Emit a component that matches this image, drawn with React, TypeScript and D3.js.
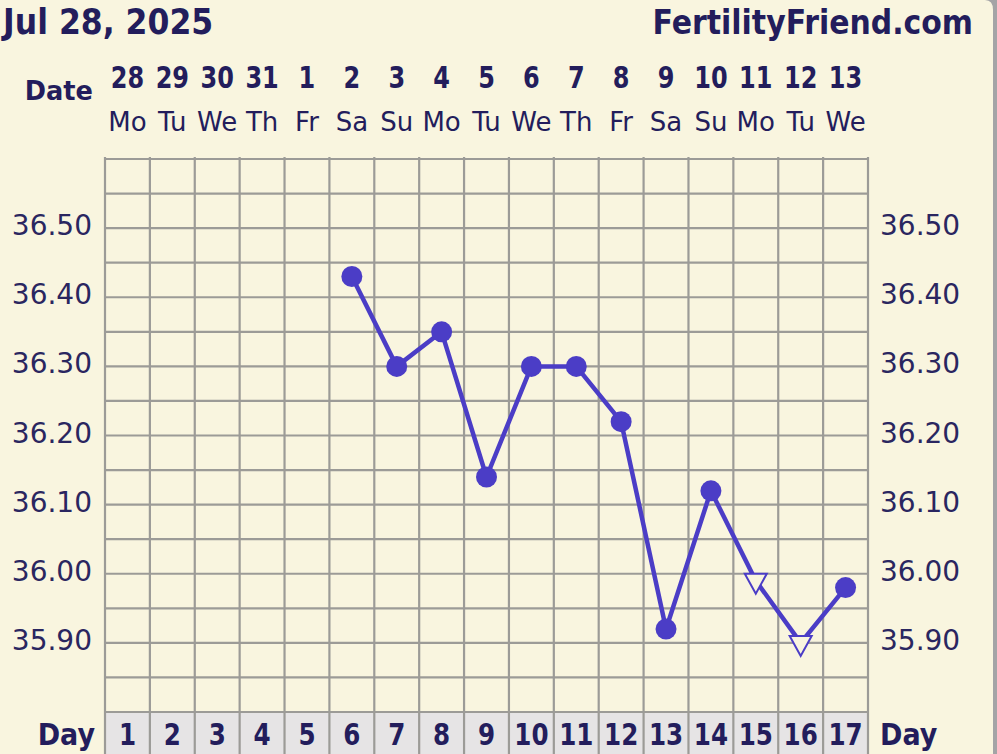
import React from "react";
import * as d3 from "d3";

const dates = ["28", "29", "30", "31", "1", "2", "3", "4", "5", "6", "7", "8", "9", "10", "11", "12", "13"];
const weekdays = ["Mo", "Tu", "We", "Th", "Fr", "Sa", "Su", "Mo", "Tu", "We", "Th", "Fr", "Sa", "Su", "Mo", "Tu", "We"];
const cycleDays = [1, 2, 3, 4, 5, 6, 7, 8, 9, 10, 11, 12, 13, 14, 15, 16, 17];
const tempDays = [6, 7, 8, 9, 10, 11, 12, 13, 14, 15, 16, 17];
const temps = [36.43, 36.3, 36.35, 36.14, 36.3, 36.3, 36.22, 35.92, 36.12, 35.99, 35.9, 35.98];
const openMarkers = [false, false, false, false, false, false, false, false, false, true, true, false];
const yTicks = [35.9, 36.0, 36.1, 36.2, 36.3, 36.4, 36.5];

const W = 997;
const H = 754;
const BG = "#f9f5df";
const INK = "#231d5c";
const LINE = "#4b3dc6";
const GRID = "#9c9b97";
const FONT = "'DejaVu Sans', Verdana, sans-serif";

export default function App() {
  const x = d3.scaleLinear().domain([0, 17]).range([105, 868]);
  const y = d3.scaleLinear().domain([35.8, 36.6]).range([712, 159]);
  const hLines = d3.range(0, 17).map((i) => 35.8 + i * 0.05);
  const vLines = d3.range(0, 18);
  const pts = tempDays.map((d, i) => ({ d, v: temps[i], open: openMarkers[i] }));
  const line = d3
    .line<{ d: number; v: number }>()
    .x((p) => x(p.d - 0.5))
    .y((p) => y(p.v));

  return (
    <svg
      width={W}
      height={H}
      style={{ position: "absolute", left: 0, top: 0 }}
      fontFamily={FONT}
    >
      <rect x={0} y={0} width={W} height={H} fill="#a4a4a6" />
      <path d={`M0,0 H985 Q993,0 993,10 V${H} H0 Z`} fill={BG} />

      {/* title */}
      <text transform="translate(3,34) scale(0.9,1)" fontSize={35} fontWeight="bold" fill={INK}>
        Jul 28, 2025
      </text>
      <text transform="translate(973,34) scale(0.88,1)" fontSize={34} fontWeight="bold" fill={INK} textAnchor="end">
        FertilityFriend.com
      </text>

      {/* date header */}
      <text transform="translate(93,100) scale(0.95,1)" fontSize={27} fontWeight="bold" fill={INK} textAnchor="end">
        Date
      </text>
      {dates.map((t, i) => (
        <text
          key={"d" + i}
          transform={`translate(${x(i + 0.5)},88) scale(0.8,1)`}
          fontSize={30}
          fontWeight="bold"
          fill={INK}
          textAnchor="middle"
        >
          {t}
        </text>
      ))}
      {weekdays.map((t, i) => (
        <text key={"w" + i} x={x(i + 0.5)} y={131} fontSize={26} fill={INK} textAnchor="middle">
          {t}
        </text>
      ))}

      {/* day row */}
      <rect x={x(0)} y={712} width={x(17) - x(0)} height={H - 712} fill="#e6e4e5" />

      {/* grid */}
      {hLines.map((v, i) => (
        <line key={"h" + i} x1={x(0)} x2={x(17)} y1={y(v)} y2={y(v)} stroke={GRID} strokeWidth={2.2} />
      ))}
      <line x1={x(0)} x2={x(17)} y1={y(36.6)} y2={y(36.6)} stroke={GRID} strokeWidth={2.2} />
      {vLines.map((i) => (
        <line key={"v" + i} x1={x(i)} x2={x(i)} y1={157} y2={H} stroke={GRID} strokeWidth={2.2} />
      ))}

      {/* y labels */}
      {yTicks.map((v) => (
        <g key={"y" + v}>
          <text x={92} y={y(v) + 7} fontSize={28} fill="#2a2660" textAnchor="end">
            {v.toFixed(2)}
          </text>
          <text x={880} y={y(v) + 7} fontSize={28} fill="#2a2660" textAnchor="start">
            {v.toFixed(2)}
          </text>
        </g>
      ))}

      {/* temperature line */}
      <path d={line(pts) || ""} fill="none" stroke={LINE} strokeWidth={4.5} strokeLinejoin="round" />
      {pts.map((p, i) => {
        const cx = x(p.d - 0.5);
        const cy = y(p.v);
        if (p.open) {
          return (
            <path
              key={"m" + i}
              d={`M${cx - 11},${cy - 7} L${cx + 11},${cy - 7} L${cx},${cy + 13} Z`}
              fill={BG}
              stroke={LINE}
              strokeWidth={2}
              strokeLinejoin="miter"
            />
          );
        }
        return <circle key={"m" + i} cx={cx} cy={cy} r={10.5} fill={LINE} />;
      })}

      {/* day numbers */}
      <text transform="translate(95,745) scale(0.9,1)" fontSize={30} fontWeight="bold" fill={INK} textAnchor="end">
        Day
      </text>
      <text transform="translate(880,745) scale(0.9,1)" fontSize={30} fontWeight="bold" fill={INK} textAnchor="start">
        Day
      </text>
      {cycleDays.map((d, i) => (
        <text
          key={"cd" + i}
          transform={`translate(${x(i + 0.5)},745) scale(0.82,1)`}
          fontSize={30}
          fontWeight="bold"
          fill={INK}
          textAnchor="middle"
        >
          {d}
        </text>
      ))}
    </svg>
  );
}
